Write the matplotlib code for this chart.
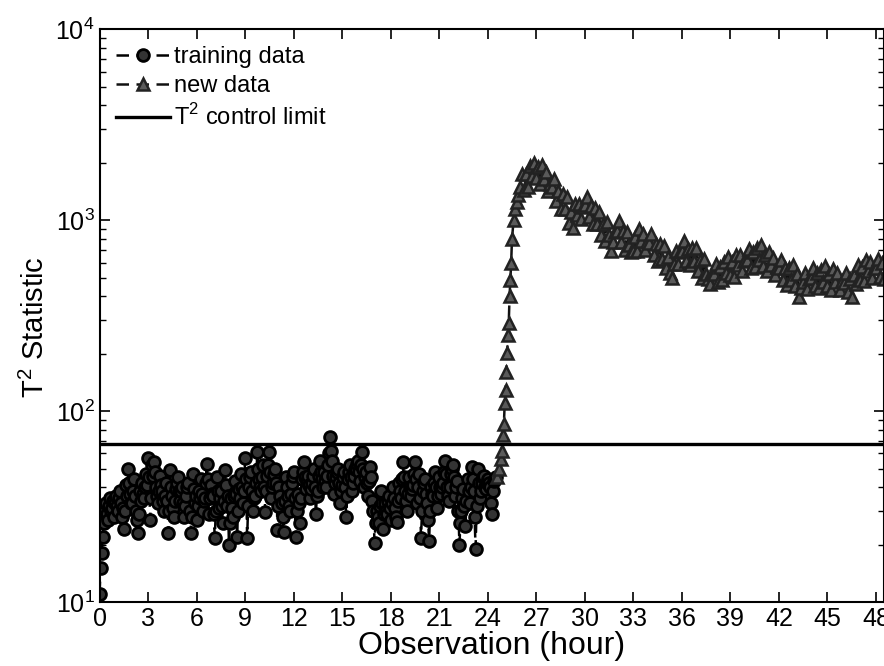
import numpy as np
import matplotlib
matplotlib.use("Agg")
import matplotlib.pyplot as plt

plt.rcParams['font.family'] = ['Liberation Sans', 'DejaVu Sans']
plt.rcParams['mathtext.fontset'] = 'custom'
plt.rcParams['mathtext.rm'] = 'Liberation Sans'

# T2 statistic, training period (every 3.75 min, 0 - 24.5 h)
train_hours = np.arange(0, 24.51, 0.0625)
train_t2 = [
    11, 15, 18, 22, 26, 30, 33, 29, 27, 32, 35, 30, 31, 34, 28, 33,
    36, 32, 30, 35, 38, 33, 28, 31, 24, 30, 41, 36, 50, 42, 37, 33,
    33, 38, 44, 36, 30, 27, 23, 29, 38, 34, 42, 37, 35, 40, 47, 41,
    57, 45, 27, 35, 52, 46, 54, 48, 40, 36, 33, 38, 46, 41, 38, 34,
    30, 36, 42, 34, 23, 30, 49, 40, 36, 31, 28, 34, 39, 42, 45, 38,
    34, 38, 40, 33, 28, 32, 36, 40, 42, 30, 23, 28, 47, 39, 33, 36,
    27, 32, 38, 35, 44, 37, 30, 34, 35, 42, 53, 44, 29, 35, 41, 37,
    36, 29, 21.6, 30, 45, 38, 31, 35, 38, 32, 26, 34, 49, 41, 32, 36,
    19.9, 26, 35, 31, 28, 36, 43, 37, 22, 30, 39, 35, 47, 40, 33, 38,
    57, 44, 21.6, 32, 40, 45, 48, 38, 30, 35, 36, 42, 61, 50, 44, 40,
    38, 45, 52, 40, 29.6, 38, 46, 52, 61, 48, 35, 40, 42, 47, 50, 42,
    23.8, 32, 40, 36, 33, 28, 23.4, 34, 45, 40, 36, 32, 30, 37, 42, 46,
    48, 35, 21.9, 30, 37, 33, 26, 35, 44, 48, 54, 45, 39, 43, 46, 41,
    35, 39, 42, 46, 50, 40, 29, 36, 38, 46, 55, 48, 44, 40, 48, 43,
    40, 46, 52, 60, 73, 62, 55, 46, 37, 42, 45, 48, 50, 42, 33, 38,
    41, 45, 48, 40, 28, 36, 44, 48, 52, 45, 38, 42, 46, 50, 50, 53,
    55, 48, 43, 52, 61, 50, 40, 45, 48, 42, 36, 43, 51, 45, 34, 30,
    20.4, 26, 30, 28, 26, 32, 38, 33, 24, 29, 33, 30, 29, 34, 36, 31,
    27, 33, 40, 35, 31, 28, 26.2, 34, 42, 38, 35, 44, 54, 45, 38, 34,
    30, 37, 45, 40, 36, 39, 41, 47, 54, 44, 33, 40, 47, 35, 21.6, 30,
    38, 42, 44, 37, 33, 27, 20.8, 30, 40, 37, 36, 42, 48, 40, 31, 36,
    45, 40, 37, 40, 42, 48, 55, 47, 40, 36, 34, 40, 47, 50, 52, 45,
    36, 40, 43, 30, 19.9, 26, 30, 35, 39, 32, 25, 34, 44, 38, 33, 40,
    51, 44, 38, 28, 19, 32, 50, 42, 35, 38, 42, 45, 46, 40, 39, 42,
    44, 42, 40, 33, 29, 38, 43, 44, 45,
]

# new data: fault onset (dense readings during the jump)
rise_hours = [24.6, 24.7, 24.8, 24.9, 24.95, 25.0, 25.05, 25.1, 25.15, 25.2,
              25.25, 25.3, 25.35, 25.4, 25.45, 25.5, 25.6, 25.7, 25.8, 25.9]
rise_t2 = [45, 50, 56, 62, 75, 86, 110, 129, 160, 202,
           250, 289, 400, 484, 600, 800, 1000, 1150, 1250, 1350]

# new data after the jump (every 7.5 min, 26 - 48.5 h)
after_hours = np.arange(26.0, 48.51, 0.125)
after_t2 = [
    1500, 1750, 1440, 1750, 1500, 1920, 1710, 2000,
    1665, 1910, 1550, 1950, 1650, 1780, 1420, 1550,
    1500, 1640, 1260, 1430, 1140, 1375, 1140, 1320,
    970, 1100, 915, 1210, 1070, 1210, 1020, 1180,
    1200, 1330, 1035, 1190, 950, 1155, 950, 1100,
    840, 955, 775, 975, 835, 690, 765, 870,
    880, 985, 765, 880, 700, 870, 740, 680,
    690, 820, 690, 900, 775, 850, 695, 770,
    760, 850, 660, 750, 615, 750, 625, 735,
    560, 645, 530, 500, 590, 690, 590, 680,
    690, 780, 610, 710, 580, 715, 610, 715,
    540, 620, 500, 630, 525, 490, 465, 520,
    520, 590, 475, 570, 485, 605, 530, 645,
    515, 605, 505, 660, 580, 655, 545, 615,
    620, 705, 565, 680, 570, 715, 620, 740,
    575, 660, 540, 685, 580, 635, 515, 570,
    560, 620, 485, 560, 460, 565, 485, 580,
    450, 525, 395, 440, 475, 530, 435, 495,
    500, 565, 450, 530, 440, 550, 475, 575,
    450, 525, 430, 555, 475, 530, 430, 480,
    470, 530, 420, 495, 395, 515, 465, 585,
    485, 570, 480, 620, 545, 605, 500, 560,
    560, 630, 505, 595, 495,
]

new_hours = list(rise_hours) + list(after_hours)
new_t2 = rise_t2 + after_t2

control_limit = 67

fig = plt.figure(figsize=(8.84, 6.66), dpi=100)
ax = fig.add_axes([0.1126, 0.096, 0.8874, 0.860])

ax.plot(train_hours, train_t2, linestyle=(0, (5, 3)), color='black', lw=1.8,
        marker='o', ms=8.5, mfc='#333333', mec='black', mew=2,
        label='training data')
ax.plot(new_hours, new_t2, linestyle=(0, (5, 3)), color='#111111', lw=1.8,
        marker='^', ms=9, mfc='#5a5a5a', mec='#222222', mew=1.8,
        label='new data')
ax.axhline(control_limit, color='black', lw=2.4, label='T$^2$ control limit')

ax.set_yscale('log')
ax.set_ylim(10, 1e4)
ax.set_xlim(0, 48.5)
ax.set_xticks(np.arange(0, 49, 3))

ax.tick_params(which='both', direction='in', top=True, right=True, labelsize=18)
ax.tick_params(which='major', length=7, width=1.2)
ax.tick_params(which='minor', length=4, width=1)
for s in ax.spines.values():
    s.set_linewidth(1.5)

ax.set_xlabel('Observation (hour)', fontsize=23, labelpad=0)
ax.set_ylabel('T$^2$ Statistic', fontsize=21)
ax.yaxis.set_label_coords(-0.063, 0.48)

ax.legend(loc='upper left', frameon=False, fontsize=17, handlelength=2.3,
          handletextpad=0.15, labelspacing=0.3, borderaxespad=0.3)

fig.savefig('out.png', dpi=100)
